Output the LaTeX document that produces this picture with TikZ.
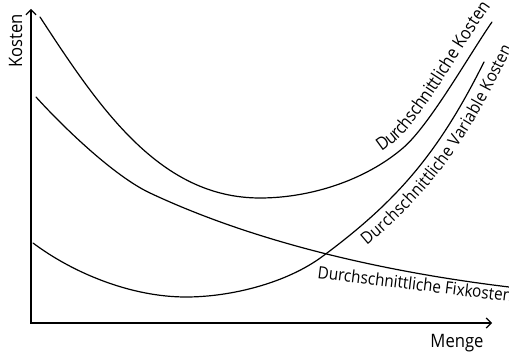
\documentclass[tikz,border=0pt]{standalone}
\usepackage{fontspec}
\setmainfont{Open Sans}
\newfontfamily\narrowsans[FakeStretch=0.9]{Open Sans}
\usetikzlibrary{arrows.meta,decorations.text}
\newcommand\lblfont{\narrowsans\fontsize{17.8}{20}\selectfont}
\newcommand\lblfontb{\narrowsans\fontsize{17}{20}\selectfont}
\newcommand\axfont{\narrowsans\fontsize{18.5}{21}\selectfont}
\begin{document}
\begin{tikzpicture}[x=1pt,y=1pt,
  curve/.style={line width=1.2pt, line join=round, line cap=round},
  axis/.style={line width=1.2pt, {Straight Barb[length=5pt,width=10pt]}-{Straight Barb[length=5pt,width=10pt]}},
  lbl/.style={font=\lblfontb, inner sep=0pt},
  axlbl/.style={font=\axfont, inner sep=0pt}]
\useasboundingbox (0,0) rectangle (509,356);
% axes
\coordinate (ytop) at (31,347);
\coordinate (O) at (31,33);
\coordinate (xend) at (492,33);
\draw[axis] (ytop) -- (O) -- (xend);
\node[axlbl, rotate=90, anchor=base] (ylab) at (22,315) {Kosten};
\node[axlbl, anchor=base] (xlab) at (457,8) {Menge};
% average total cost
\draw[curve] (40,339) .. controls (100,247) and (160,158) .. (260,158)
  .. controls (310,158) and (365,175.5) .. (403,208)
  .. controls (429.6,230.75) and (469.2,301.2) .. (492,334);
% average fixed cost
\draw[curve] (36,259) .. controls (62.8,229.4) and (113.8,180) .. (150,163)
  .. controls (258.6,112) and (389.8,83.4) .. (509,69);
% average variable cost
\draw[curve] (33,113) .. controls (73,83) and (131,59) .. (186,59)
  .. controls (231,59) and (287,73) .. (323,100)
  .. controls (400,157) and (440,206) .. (484,294);
% labels along curves
\path[decorate, decoration={text along path, text={|\lblfont|Durchschnittliche Kosten}, raise=10pt, text align={left indent=135pt}}]
  (260,158) .. controls (310,158) and (365,175.5) .. (403,208)
  .. controls (429.6,230.75) and (469.2,301.2) .. (492,334) -- (506,354);
\path[decorate, decoration={text along path, text={|\lblfontb|Durchschnittliche Variable Kosten}, raise=-19pt, text align={left indent=40pt}}]
  (323,100) .. controls (400,157) and (440,206) .. (484,294) -- (502,330);
\node[lbl, anchor=base west, rotate=-7] (fix) at (317,78) {Durchschnittliche Fixkosten};
\end{tikzpicture}
\end{document}
